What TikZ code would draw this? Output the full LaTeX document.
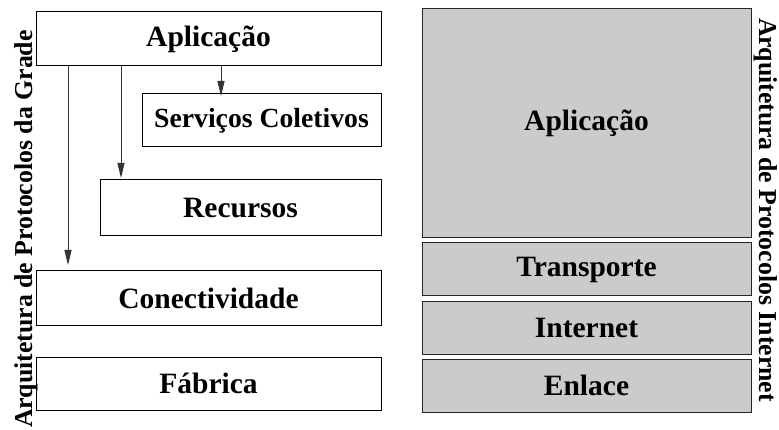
\documentclass[tikz,border=0pt]{standalone}
\usepackage{fontspec}
\setmainfont{Liberation Serif}
\usetikzlibrary{arrows.meta}
\definecolor{layergray}{HTML}{CBCBCB}
\begin{document}
\begin{tikzpicture}[x=1pt,y=-1pt,
  layerbox/.style={draw=black, line width=1pt, inner sep=0pt, outer sep=0pt,
    font=\fontsize{29.5}{30}\selectfont\bfseries},
  ipbox/.style={layerbox, fill=layergray, draw=black!85, minimum width=329pt},
  gridarrow/.style={draw=black!80, line width=0.9pt, -{Triangle[length=15pt,width=7pt]}},
  sidelabel/.style={font=\fontsize{25.8}{27}\selectfont\bfseries, inner sep=0pt}
]
\useasboundingbox (0,0) rectangle (779,430);

% left stack
\node[layerbox, minimum width=345pt, minimum height=54pt] (appL) at (208.5,39) {Aplicação};
\node[layerbox, minimum width=239pt, minimum height=53pt, font=\fontsize{27.7}{28}\selectfont\bfseries] (serv) at (261.5,120.5) {Serviços Coletivos};
\node[layerbox, minimum width=281pt, minimum height=56pt] (rec) at (240.5,208) {Recursos};
\node[layerbox, minimum width=345pt, minimum height=54pt] (con) at (208.5,298) {Conectividade};
\node[layerbox, minimum width=345pt, minimum height=53pt] (fab) at (208.5,383.5) {Fábrica};

\coordinate (a1) at (68,0);
\coordinate (a2) at (121,0);
\coordinate (a3) at (221,0);
\draw[gridarrow, shorten >=6pt] (a1 |- appL.south) -- (a1 |- con.north);
\draw[gridarrow, shorten >=2pt] (a2 |- appL.south) -- (a2 |- rec.north);
\draw[gridarrow, shorten >=-2pt] (a3 |- appL.south) -- (a3 |- serv.north);

\node[sidelabel, rotate=90, anchor=base] (gridlbl) at (32,229) {Arquitetura de Protocolos da Grade};

% right stack
\node[ipbox, minimum height=229pt] (appR) at (586.5,123.5) {Aplicação};
\node[ipbox, minimum height=53pt] (trans) at (586.5,269.5) {Transporte};
\node[ipbox, minimum height=52pt] (inet) at (586.5,328) {Internet};
\node[ipbox, minimum height=53pt] (enl) at (586.5,385.5) {Enlace};

\node[sidelabel, rotate=-90, anchor=base] (iplbl) at (759.5,210) {Arquitetura de Protocolos Internet};
\end{tikzpicture}
\end{document}
